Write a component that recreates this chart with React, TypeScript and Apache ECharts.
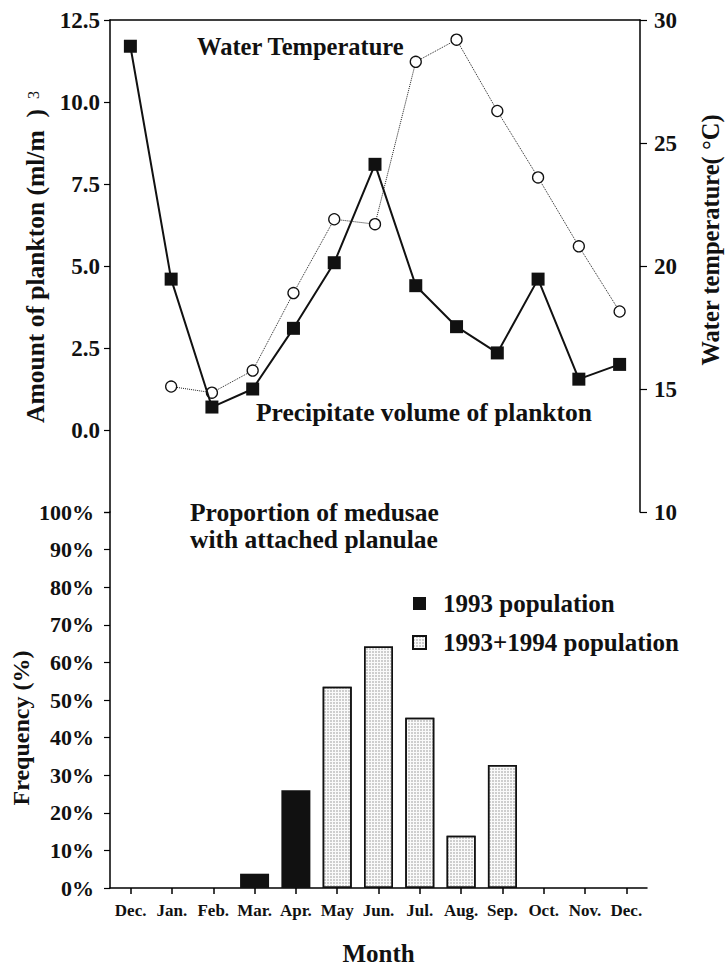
import React, { useEffect, useRef } from 'react';
import * as echarts from 'echarts';

const months = ['Dec.', 'Jan.', 'Feb.', 'Mar.', 'Apr.', 'May', 'Jun.', 'Jul.', 'Aug.', 'Sep.', 'Oct.', 'Nov.', 'Dec.'];
const planktonVolume = [11.7, 4.6, 0.7, 1.25, 3.1, 5.1, 8.1, 4.4, 3.15, 2.35, 4.6, 1.55, 2.0];
const waterTemp = [null, 15.1, 14.85, 15.75, 18.9, 21.9, 21.7, 28.3, 29.2, 26.3, 23.6, 20.8, 18.15];
const pop1993 = [null, null, null, 3.8, 26, null, null, null, null, null, null, null, null];
const pop1993and1994 = [null, null, null, null, null, 53.5, 64.2, 45.3, 13.9, 32.7, null, null, null];

const FONT = 'Liberation Serif';

export default function App() {
  const ref = useRef<HTMLDivElement>(null);
  useEffect(() => {
    if (!ref.current) return;
    const chart = echarts.init(ref.current, null, { renderer: 'svg' });
    const invisibleDecal = { color: 'rgba(0,0,0,0)' };
    const axisLine = { show: true, onZero: false, lineStyle: { color: '#000', width: 1.5 } };
    const labelStyle = { color: '#111', fontFamily: FONT, fontWeight: 'bold' as const };
    const txt = (text: string, x: number, y: number, fontSize: number, extra: any = {}) => ({
      type: 'text', x, y, ...extra,
      style: { text, fontFamily: FONT, fontWeight: 'bold', fontSize, fill: '#111', verticalAlign: 'middle', ...(extra.style || {}) },
    });
    const option: any = {
      animation: false,
      backgroundColor: '#fff',
      aria: { enabled: true, label: { enabled: false }, decal: { show: true } },
      textStyle: { fontFamily: FONT, fontWeight: 'bold', color: '#111' },
      grid: [
        { left: 110, top: 20, width: 530, height: 492 },
        { left: 110, top: 512, width: 537, height: 388 },
      ],
      xAxis: [
        {
          gridIndex: 0, type: 'category', data: months, position: 'top',
          axisLine, axisTick: { show: false }, axisLabel: { show: false }, splitLine: { show: false },
        },
        {
          gridIndex: 1, type: 'category', data: months, position: 'bottom',
          axisLine,
          axisTick: { show: true, alignWithLabel: true, length: 6, lineStyle: { color: '#000', width: 1.5 } },
          axisLabel: { ...labelStyle, fontSize: 17, margin: 14, interval: 0 },
          name: 'Month', nameLocation: 'middle', nameGap: 53,
          nameTextStyle: { ...labelStyle, fontSize: 25 },
        },
      ],
      yAxis: [
        {
          gridIndex: 0, type: 'value', position: 'left', min: -2.5, max: 12.5, interval: 2.5,
          axisLine, splitLine: { show: false },
          axisTick: { show: true, length: 6, lineStyle: { color: '#000', width: 1.2 } },
          axisLabel: {
            ...labelStyle, fontSize: 23, margin: 10,
            formatter: (v: number) => (v < 0 ? '' : v.toFixed(1)),
          },
        },
        {
          gridIndex: 0, type: 'value', position: 'right', min: 10, max: 30, interval: 5,
          axisLine, splitLine: { show: false },
          axisTick: { show: true, length: 7, lineStyle: { color: '#000', width: 1.2 } },
          axisLabel: { ...labelStyle, fontSize: 23, margin: 14 },
        },
        {
          gridIndex: 1, type: 'value', position: 'left', min: 0, max: 100, interval: 10,
          axisLine, splitLine: { show: false },
          axisTick: { show: true, length: 6, lineStyle: { color: '#000', width: 1.2 } },
          axisLabel: { ...labelStyle, fontSize: 22, margin: 16, formatter: '{value}%' },
        },
      ],
      legend: {
        data: ['1993 population', '1993+1994 population'],
        orient: 'vertical', left: 412, top: 591, itemWidth: 13, itemHeight: 13, itemGap: 14,
        icon: 'rect', padding: 0,
        textStyle: { ...labelStyle, fontSize: 25, padding: [0, 0, 0, 12] },
      },
      series: [
        {
          name: 'Precipitate volume of plankton', type: 'line', xAxisIndex: 0, yAxisIndex: 0,
          data: planktonVolume, symbol: 'rect', symbolSize: 13, showAllSymbol: true,
          itemStyle: { color: '#111', decal: invisibleDecal },
          lineStyle: { color: '#111', width: 2 },
          z: 3,
        },
        {
          name: 'Water Temperature', type: 'line', xAxisIndex: 0, yAxisIndex: 1,
          data: waterTemp, symbol: 'circle', symbolSize: 11, showAllSymbol: true,
          itemStyle: { color: '#fff', borderColor: '#111', borderWidth: 1.3, decal: invisibleDecal },
          lineStyle: { color: '#222', width: 1, type: 'dotted' },
          z: 2,
        },
        {
          name: '1993 population', type: 'bar', xAxisIndex: 1, yAxisIndex: 2,
          data: pop1993, barWidth: 29, barGap: '-100%',
          itemStyle: { color: '#111', decal: invisibleDecal },
        },
        {
          name: '1993+1994 population', type: 'bar', xAxisIndex: 1, yAxisIndex: 2,
          data: pop1993and1994, barWidth: 29, barGap: '-100%',
          itemStyle: {
            color: '#fafafa', borderColor: '#111', borderWidth: 1.5,
            decal: {
              symbol: 'rect', symbolSize: 0.6, color: '#666',
              dashArrayX: [2, 1], dashArrayY: [2, 1], rotation: 0,
            },
          },
        },
      ],
      graphic: [
        txt('Water Temperature', 197, 46, 24.5),
        txt('Precipitate volume of plankton', 256, 412, 25.5),
        txt('Proportion of medusae', 190, 512, 25.5),
        txt('with attached planulae', 190, 539, 25.5),
        txt('Amount of plankton (ml/m  )', 35, 266, 25.5, { rotation: Math.PI / 2, style: { align: 'center' } }),
        txt('3', 33, 95, 16, { rotation: Math.PI / 2, style: { align: 'center', fontWeight: 'normal' } }),
        txt('Water temperature( °C)', 710, 240, 24.5, { rotation: Math.PI / 2, style: { align: 'center' } }),
        txt('Frequency (%)', 21, 728, 24, { rotation: Math.PI / 2, style: { align: 'center' } }),
      ],
    };
    chart.setOption(option);
    return () => chart.dispose();
  }, []);
  return <div ref={ref} style={{ position: 'fixed', left: 0, top: 0, width: 725, height: 967, background: '#fff' }} />;
}
